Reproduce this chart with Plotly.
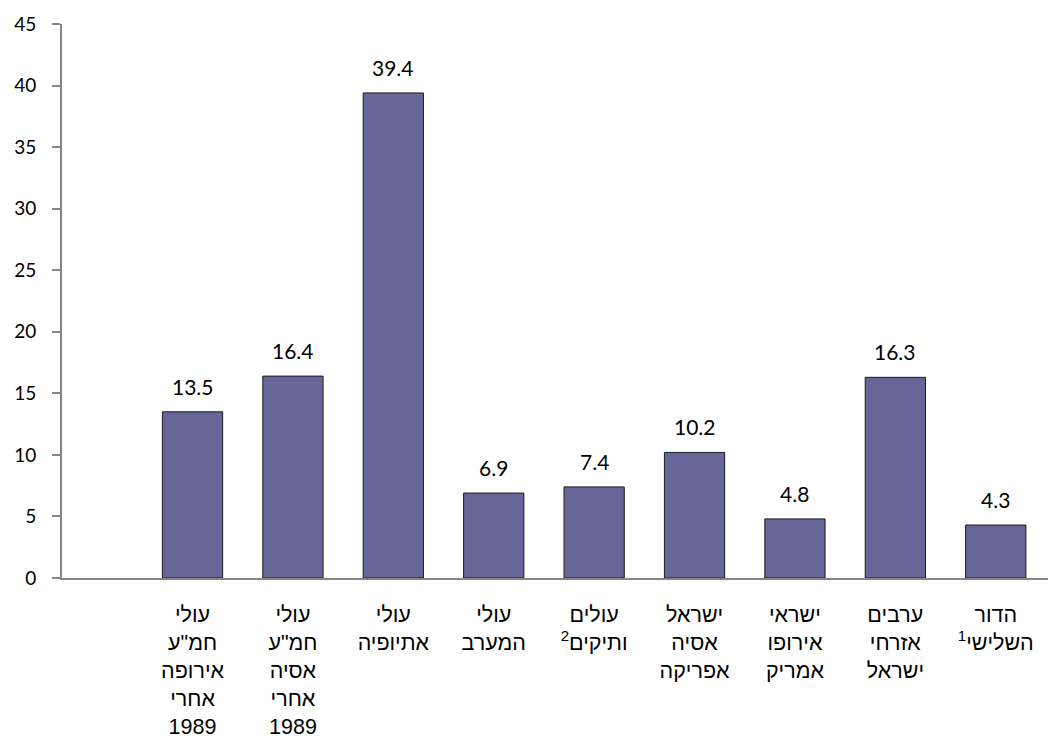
import plotly.graph_objects as go

categories = [
    'עולי<br>חמ"ע<br>אירופה<br>אחרי<br>1989',
    'עולי<br>חמ"ע<br>אסיה<br>אחרי<br>1989',
    'עולי<br>אתיופיה',
    'עולי<br>המערב',
    'עולים<br>ותיקים<sup>2</sup>',
    'ישראל<br>אסיה<br>אפריקה',
    'ישראי<br>אירופו<br>אמריק',
    'ערבים<br>אזרחי<br>ישראל',
    'הדור<br>השלישי<sup>1</sup>',
]
values = [13.5, 16.4, 39.4, 6.9, 7.4, 10.2, 4.8, 16.3, 4.3]
value_labels = ["13.5", "16.4", "39.4", "6.9", "7.4", "10.2", "4.8", "16.3", "4.3"]
y_ticks = [0, 5, 10, 15, 20, 25, 30, 35, 40, 45]

fig = go.Figure()
fig.add_trace(go.Bar(
    x=categories, y=values,
    marker=dict(color="#666699", line=dict(color="#1a1a1a", width=1)),
    width=0.6,
    hoverinfo="skip",
))

for c, v, t in zip(categories, values, value_labels):
    fig.add_annotation(x=c, y=v, text=t, showarrow=False, yanchor="bottom",
                       yshift=11, font=dict(family="Lato, Open Sans, sans-serif", size=21, color="#000000"))

fig.update_layout(
    width=1048, height=734,
    margin=dict(l=54, r=0, t=16, b=164),
    plot_bgcolor="white", paper_bgcolor="white",
    showlegend=False,
    bargap=0.4,
)
fig.update_xaxes(
    type="category",
    range=[-1.3, 8.6],
    automargin=False,
    showline=True, linecolor="#868686", linewidth=2,
    ticks="", showgrid=False,
    tickfont=dict(family="Arial, Liberation Sans, sans-serif", size=21.5, color="#000000"),
    tickangle=0,
    ticklabelstandoff=16,
)
fig.update_yaxes(
    range=[0, 45],
    automargin=False,
    tickvals=y_ticks,
    showline=True, linecolor="#868686", linewidth=2,
    ticks="outside", ticklen=8, tickcolor="#868686", tickwidth=1.5,
    showgrid=False, zeroline=False,
    tickfont=dict(family="Lato, Open Sans, sans-serif", size=19, color="#000000"),
    ticklabelstandoff=12,
)

fig.write_html("out.html")
